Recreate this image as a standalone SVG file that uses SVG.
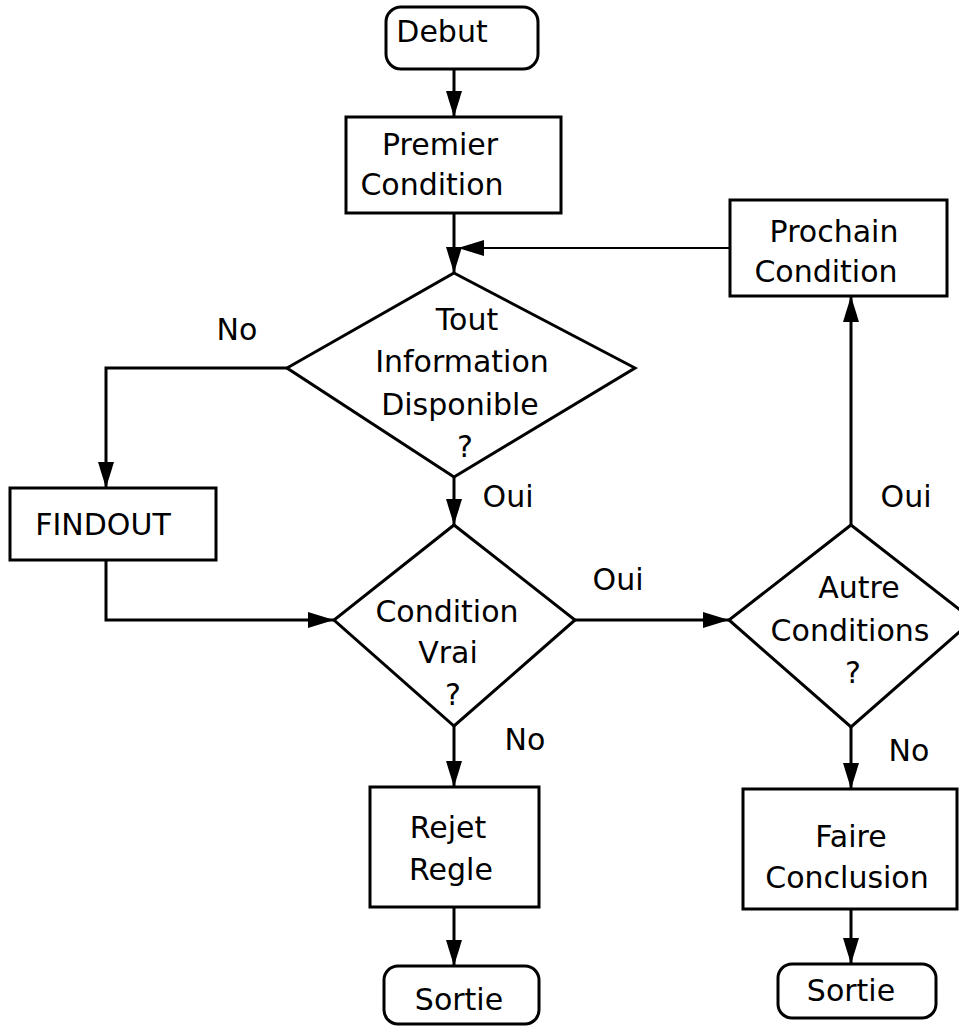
<svg xmlns="http://www.w3.org/2000/svg" width="959" height="1027" viewBox="0 0 959 1027">
<style>
.shape{fill:#fff;stroke:#000;stroke-width:3}
.conn{fill:none;stroke:#000;stroke-width:3}
.thin{stroke-width:2}
text{font-family:"DejaVu Sans","Verdana",sans-serif;font-size:30px;fill:#000;text-anchor:middle}
</style>
<defs>
<marker id="arr" viewBox="0 0 26 16" refX="26" refY="8" markerWidth="26" markerHeight="16" markerUnits="userSpaceOnUse" orient="auto">
<path d="M0,0 L26,8 L0,16 Z" fill="#000"/>
</marker>
</defs>
<g id="connectors">
<line class="conn" x1="454" y1="69" x2="454" y2="117" marker-end="url(#arr)"/>
<line class="conn" x1="454" y1="213" x2="454" y2="273" marker-end="url(#arr)"/>
<line class="conn thin" x1="730" y1="248" x2="458" y2="248" marker-end="url(#arr)"/>
<polyline class="conn" points="287,368 106,368 106,488" marker-end="url(#arr)"/>
<polyline class="conn" points="106,560 106,620 334,620" marker-end="url(#arr)"/>
<line class="conn" x1="454" y1="477" x2="454" y2="525" marker-end="url(#arr)"/>
<line class="conn" x1="575" y1="620" x2="729" y2="620" marker-end="url(#arr)"/>
<line class="conn" x1="851" y1="525" x2="851" y2="296" marker-end="url(#arr)"/>
<line class="conn" x1="454" y1="726" x2="454" y2="787" marker-end="url(#arr)"/>
<line class="conn" x1="851" y1="727" x2="851" y2="789" marker-end="url(#arr)"/>
<line class="conn" x1="454" y1="907" x2="454" y2="966" marker-end="url(#arr)"/>
<line class="conn" x1="851" y1="909" x2="851" y2="964" marker-end="url(#arr)"/>
<text x="237" y="340">No</text>
<text x="508" y="507">Oui</text>
<text x="618" y="590">Oui</text>
<text x="906" y="507">Oui</text>
<text x="525" y="750">No</text>
<text x="909" y="761">No</text>
</g>
<g id="debut">
<rect class="shape" x="386" y="7" width="152" height="62" rx="15"/>
<text x="442" y="42">Debut</text>
</g>
<g id="premier">
<rect class="shape" x="346" y="117" width="215" height="96"/>
<text x="440" y="155">Premier</text>
<text x="432" y="195">Condition</text>
</g>
<g id="prochain">
<rect class="shape" x="730" y="200" width="217" height="96"/>
<text x="834" y="242">Prochain</text>
<text x="826" y="282">Condition</text>
</g>
<g id="tout">
<polygon class="shape" points="454,273 635,368 454,477 287,368"/>
<text x="467" y="330">Tout</text>
<text x="462" y="372">Information</text>
<text x="460" y="415">Disponible</text>
<text x="465" y="457">?</text>
</g>
<g id="findout">
<rect class="shape" x="10" y="488" width="206" height="72"/>
<text x="103" y="535">FINDOUT</text>
</g>
<g id="vrai">
<polygon class="shape" points="454,525 575,620 454,726 334,620"/>
<text x="447" y="622">Condition</text>
<text x="448" y="663">Vrai</text>
<text x="453" y="705">?</text>
</g>
<g id="autre">
<polygon class="shape" points="851,525 973,620 851,727 729,620"/>
<text x="859" y="598">Autre</text>
<text x="850" y="641">Conditions</text>
<text x="853" y="683">?</text>
</g>
<g id="rejet">
<rect class="shape" x="370" y="787" width="169" height="120"/>
<text x="448" y="838">Rejet</text>
<text x="451" y="880">Regle</text>
</g>
<g id="faire">
<rect class="shape" x="743" y="789" width="214" height="120"/>
<text x="851" y="847">Faire</text>
<text x="847" y="888">Conclusion</text>
</g>
<g id="sortie1">
<rect class="shape" x="384" y="966" width="155" height="58" rx="14"/>
<text x="459" y="1010">Sortie</text>
</g>
<g id="sortie2">
<rect class="shape" x="778" y="964" width="158" height="54" rx="14"/>
<text x="851" y="1001">Sortie</text>
</g>
</svg>
